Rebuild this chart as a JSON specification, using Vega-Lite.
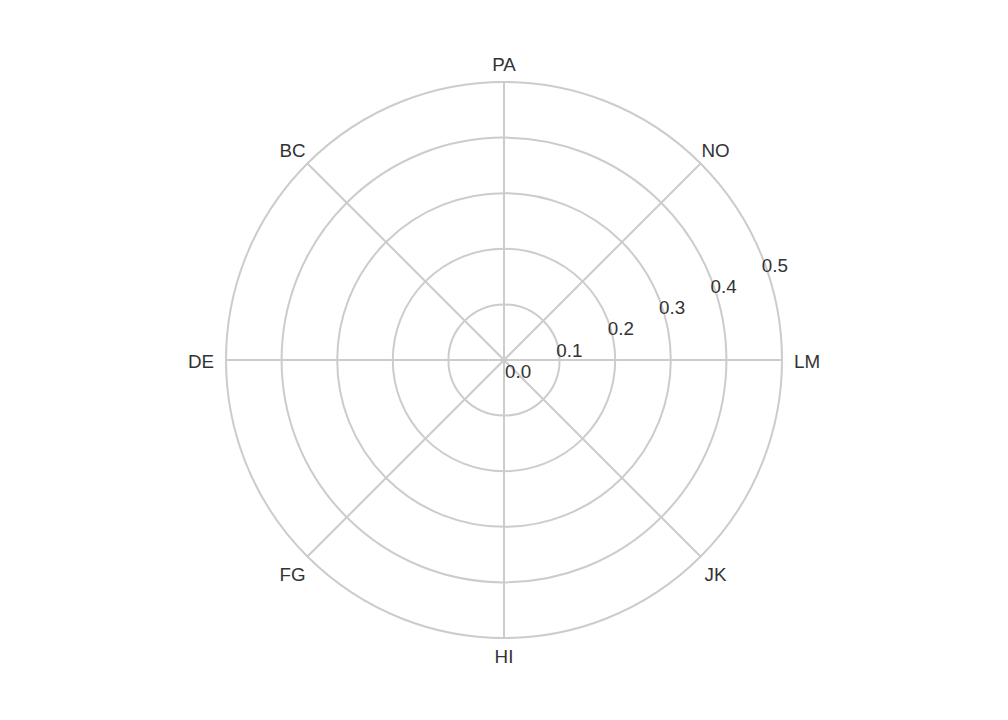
{
  "$schema": "https://vega.github.io/schema/vega-lite/v6.json",
  "width": 1008,
  "height": 720,
  "autosize": {"type": "fit", "contains": "padding"},
  "padding": 0,
  "background": "white",
  "config": {
    "view": {"stroke": null}
  },
  "datasets": {
    "rings": [
      {"r": 0.0},
      {"r": 0.1},
      {"r": 0.2},
      {"r": 0.3},
      {"r": 0.4},
      {"r": 0.5}
    ],
    "spokes": [
      {"label": "PA", "angle": 0, "side": "v"},
      {"label": "NO", "angle": 45, "side": "d"},
      {"label": "LM", "angle": 90, "side": "h"},
      {"label": "JK", "angle": 135, "side": "d"},
      {"label": "HI", "angle": 180, "side": "v"},
      {"label": "FG", "angle": 225, "side": "d"},
      {"label": "DE", "angle": 270, "side": "h"},
      {"label": "BC", "angle": 315, "side": "d"}
    ]
  },
  "layer": [
    {
      "data": {"name": "rings"},
      "mark": {"type": "arc", "filled": false, "stroke": "#cccccc", "strokeWidth": 2, "theta": 0, "theta2": 6.2832},
      "encoding": {
        "radius": {"field": "r", "type": "quantitative", "stack": null, "scale": {"type": "linear", "domain": [0, 0.5], "range": [0, 278]}}
      }
    },
    {
      "data": {"name": "spokes"},
      "mark": {"type": "arc", "filled": false, "stroke": "#cccccc", "strokeWidth": 2},
      "encoding": {
        "theta": {"field": "angle", "type": "quantitative", "stack": null, "scale": {"domain": [0, 360], "range": [0, 6.2832]}},
        "theta2": {"field": "angle"},
        "radius": {"datum": 0.5, "type": "quantitative", "scale": {"type": "linear", "domain": [0, 0.5], "range": [0, 278]}}
      }
    },
    {
      "data": {"name": "rings"},
      "mark": {"type": "text", "align": "left", "baseline": "top", "dx": 1, "dy": 3, "font": "Liberation Sans", "fontSize": 18.8, "color": "#333333"},
      "encoding": {
        "theta": {"datum": 67.5, "type": "quantitative", "scale": {"domain": [0, 360], "range": [0, 6.2832]}},
        "radius": {"field": "r", "type": "quantitative", "stack": null},
        "text": {"field": "r", "type": "quantitative", "format": ".1f"}
      }
    },
    {
      "data": {"name": "spokes"},
      "transform": [{"filter": "datum.side === 'v'"}],
      "mark": {"type": "text", "align": "center", "baseline": "middle", "dy": 1, "font": "Liberation Sans", "fontSize": 18.8, "color": "#333333"},
      "encoding": {
        "theta": {"field": "angle", "type": "quantitative", "stack": null},
        "radius": {"datum": 0.532, "type": "quantitative"},
        "text": {"field": "label", "type": "nominal"}
      }
    },
    {
      "data": {"name": "spokes"},
      "transform": [{"filter": "datum.side === 'd'"}],
      "mark": {"type": "text", "align": "center", "baseline": "middle", "dy": 3, "font": "Liberation Sans", "fontSize": 18.8, "color": "#333333"},
      "encoding": {
        "theta": {"field": "angle", "type": "quantitative", "stack": null},
        "radius": {"datum": 0.538, "type": "quantitative"},
        "text": {"field": "label", "type": "nominal"}
      }
    },
    {
      "data": {"name": "spokes"},
      "transform": [{"filter": "datum.side === 'h'"}],
      "mark": {"type": "text", "align": "center", "baseline": "middle", "dy": 2, "font": "Liberation Sans", "fontSize": 18.8, "color": "#333333"},
      "encoding": {
        "theta": {"field": "angle", "type": "quantitative", "stack": null},
        "radius": {"datum": 0.545, "type": "quantitative"},
        "text": {"field": "label", "type": "nominal"}
      }
    }
  ]
}
